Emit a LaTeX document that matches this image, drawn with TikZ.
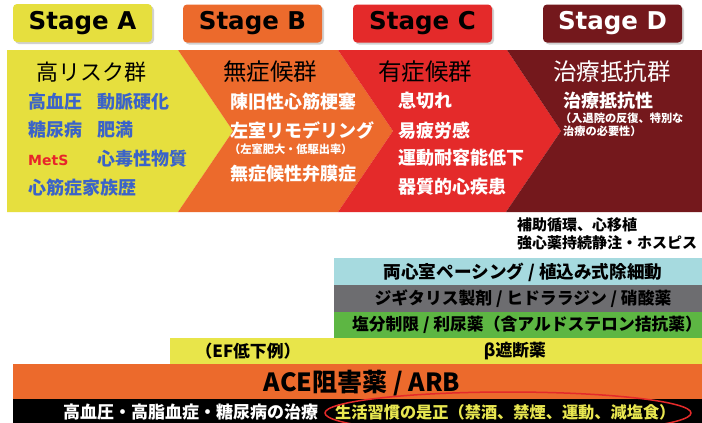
\documentclass[tikz,border=0pt]{standalone}
\usepackage{fontspec}
\setmainfont{Noto Sans CJK JP}
\newfontfamily\stagefont{DejaVu Sans}
\definecolor{cA}{HTML}{E6DF3E}
\definecolor{cB}{HTML}{EC6A2C}
\definecolor{cC}{HTML}{E42A2A}
\definecolor{cD}{HTML}{74181C}
\definecolor{cblue}{HTML}{3B63C8}
\definecolor{cmet}{HTML}{E8242A}
\definecolor{clb}{HTML}{A6DADF}
\definecolor{cgray}{HTML}{6D6D70}
\definecolor{cgreen}{HTML}{5DB643}
\definecolor{cyb}{HTML}{E8E54A}
\definecolor{cyt}{HTML}{E8E650}
\begin{document}
\begin{tikzpicture}[x=1pt,y=-1pt,
  stagebox/.style={rounded corners=4pt, minimum width=139pt, minimum height=38pt,
    inner sep=0pt, font=\stagefont\bfseries\fontsize{24.5}{26}\selectfont},
  head/.style={anchor=west, inner sep=0pt, font=\fontsize{23.5}{25}\selectfont},
  item/.style={anchor=west, inner sep=0pt, font=\bfseries\fontsize{18}{20}\selectfont},
  small/.style={anchor=west, inner sep=0pt, font=\bfseries\fontsize{11.2}{12}\selectfont},
  bartext/.style={inner sep=0pt, font=\bfseries\fontsize{16.8}{18}\selectfont},
  lowtext/.style={anchor=west, inner sep=0pt, font=\bfseries\fontsize{15}{17}\selectfont},
  shade/.style={fill=black!18, rounded corners=4pt}]
\useasboundingbox (0,0) rectangle (702,423);
\clip (0,0) rectangle (702,423);
\fill[white] (0,0) rectangle (702,423);
% stage boxes
\fill[shade] (15,6) rectangle (154,44);
\fill[shade] (185,6.5) rectangle (324,44.5);
\fill[shade] (355,6.5) rectangle (494,44.5);
\fill[shade] (545,6.5) rectangle (684,44.5);
\node[stagebox, fill=cA, text=black] (sa) at (82.5,23) {Stage A};
\node[stagebox, fill=cB, text=black] (sb) at (252.5,23.5) {Stage B};
\node[stagebox, fill=cC, text=black] (sc) at (422.5,23.5) {Stage C};
\node[stagebox, fill=cD, text=white] (sd) at (612.5,23.5) {Stage D};
% chevron band
\fill[cA] (7,50) -- (178,50) -- (233,131) -- (178,212) -- (7,212) -- cycle;
\fill[cB] (178,50) -- (338,50) -- (393,131) -- (338,212) -- (178,212) -- (233,131) -- cycle;
\fill[cC] (338,50) -- (507,50) -- (561,131) -- (506,212) -- (338,212) -- (393,131) -- cycle;
\fill[cD] (507,50) -- (702,50) -- (702,212) -- (506,212) -- (561,131) -- cycle;
% stage A texts
\node[head, font=\fontsize{22}{24}\selectfont] (ha) at (36,72) {高リスク群};
\node[item, text=cblue] (a1) at (28,102) {高血圧};
\node[item, text=cblue] (a2) at (97,102) {動脈硬化};
\node[item, text=cblue] (a3) at (28,130) {糖尿病};
\node[item, text=cblue] (a4) at (97,130) {肥満};
\node[item, text=cmet, font=\stagefont\bfseries\fontsize{14}{16}\selectfont] (a5) at (28,160) {MetS};
\node[item, text=cblue] (a6) at (97,159) {心毒性物質};
\node[item, text=cblue] (a7) at (28,188) {心筋症家族歴};
% stage B texts
\node[head] (hb) at (223,72) {無症候群};
\node[item, text=white] (b1) at (230,102) {陳旧性心筋梗塞};
\node[item, text=white] (b2) at (230,130) {左室リモデリング};
\node[small, text=white] (b3) at (229,149) {（左室肥大・低駆出率）};
\node[item, text=white] (b4) at (230,174) {無症候性弁膜症};
% stage C texts
\node[head] (hc) at (378,72) {有症候群};
\node[item, text=white] (c1) at (398,101) {息切れ};
\node[item, text=white] (c2) at (398,131) {易疲労感};
\node[item, text=white] (c3) at (398,158) {運動耐容能低下};
\node[item, text=white] (c4) at (398,187) {器質的心疾患};
% stage D texts
\node[head, text=white] (hd) at (553,72) {治療抵抗群};
\node[item, text=white] (d1) at (563,101) {治療抵抗性};
\node[small, text=white] (d2) at (560,118) {（入退院の反復、特別な};
\node[small, text=white] (d3) at (563,131) {治療の必要性）};
% lower texts
\node[lowtext] (l1) at (517,225) {補助循環、心移植};
\node[lowtext] (l2) at (517,243) {強心薬持続静注・ホスピス};
% bars
\fill[clb] (334,258) rectangle (702,285);
\fill[cgray] (334,285) rectangle (702,312);
\fill[cgreen] (334,312) rectangle (702,338);
\fill[cyb] (170,338) rectangle (702,364);
\fill[cB] (13,364) rectangle (702,399);
\fill[black] (13,399) rectangle (702,423);
\node[bartext, font=\bfseries\fontsize{17.6}{19}\selectfont] (p1) at (523,272) {両心室ペーシング / 植込み式除細動};
\node[bartext] (p2) at (523,298.5) {ジギタリス製剤 / ヒドララジン / 硝酸薬};
\node[bartext] (p3) at (527,325) {塩分制限 / 利尿薬（含アルドステロン拮抗薬）};
\node[bartext] (p4) at (248,351) {（EF低下例）};
\node[bartext] (p5) at (515,351) {β遮断薬};
\node[inner sep=0pt, font=\bfseries\fontsize{25}{27}\selectfont] (p6) at (362,383) {ACE阻害薬 / ARB};
\node[lowtext, text=white, font=\bfseries\fontsize{17}{18}\selectfont] (p7) at (63,412) {高血圧・高脂血症・糖尿病の治療};
\node[lowtext, text=cyt, font=\bfseries\fontsize{16.2}{18}\selectfont] (p8) at (335,412) {生活習慣の是正（禁酒、禁煙、運動、減塩食）};
\draw[cC, line width=1.5pt] (508,413) ellipse [x radius=183pt, y radius=21pt];
\end{tikzpicture}
\end{document}
